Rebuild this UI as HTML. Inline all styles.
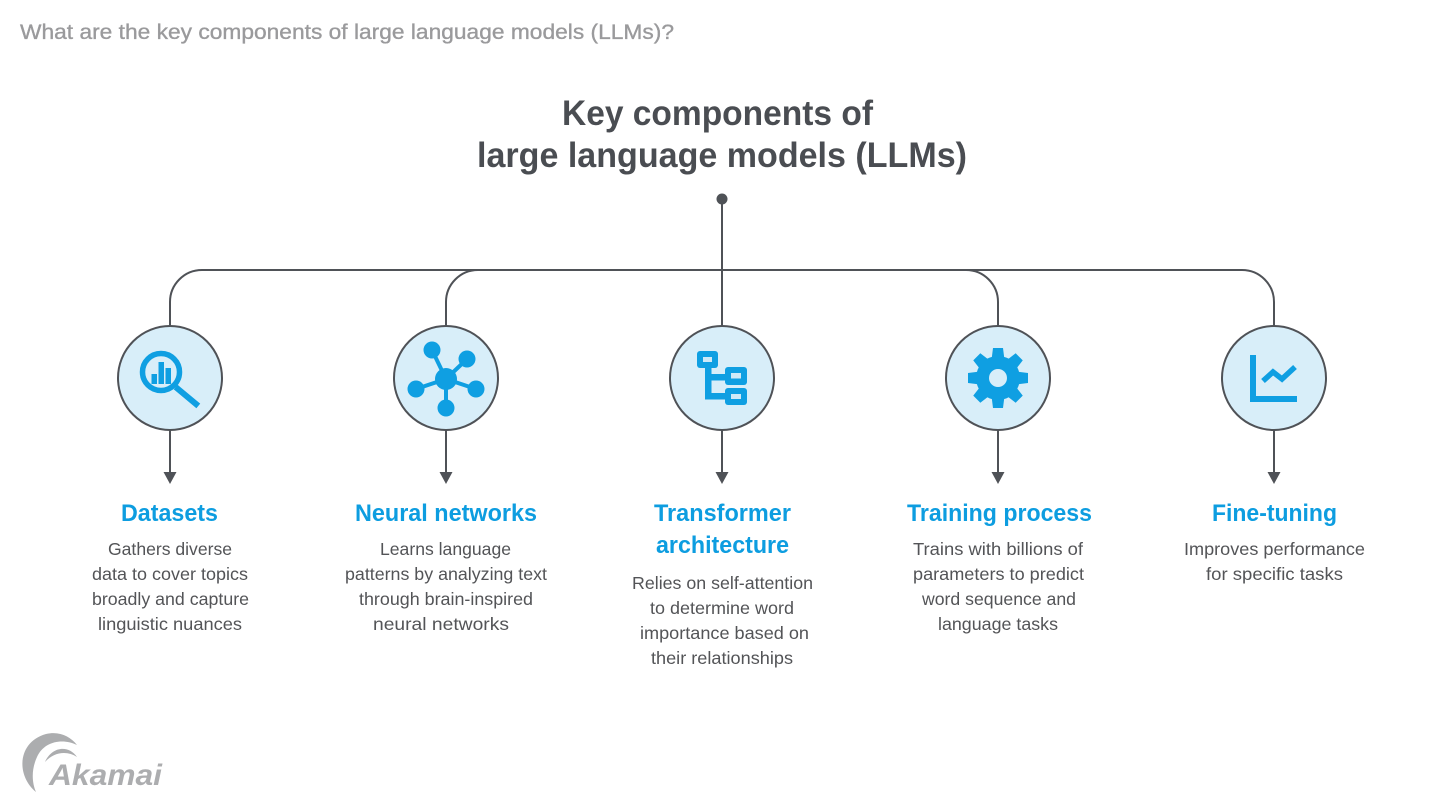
<!DOCTYPE html>
<html>
<head>
<meta charset="utf-8">
<style>
html,body{margin:0;padding:0;background:#fff;}
svg{display:block;}
text{font-family:"Liberation Sans",Arial,sans-serif;}
.t{fill:#9a9a9c;font-size:21px;stroke:#9a9a9c;stroke-width:0.35px;}
.h{fill:#4a4d52;font-size:35px;font-weight:bold;}
.l{fill:#0d9de0;font-size:24px;font-weight:bold;}
.d{fill:#535457;font-size:17.5px;}
</style>
</head>
<body>
<svg width="1440" height="810" viewBox="0 0 1440 810" xmlns="http://www.w3.org/2000/svg">
<rect width="1440" height="810" fill="#fff"/>

<!-- top question -->
<text class="t" x="20" y="39" textLength="654" lengthAdjust="spacingAndGlyphs">What are the key components of large language models (LLMs)?</text>

<!-- heading -->
<text class="h" x="562" y="125" textLength="311" lengthAdjust="spacingAndGlyphs">Key components of</text>
<text class="h" x="477" y="167" textLength="490" lengthAdjust="spacingAndGlyphs">large language models (LLMs)</text>

<!-- connectors -->
<g fill="none" stroke="#4f5257" stroke-width="2">
  <path d="M170 326 V302 A32 32 0 0 1 202 270 H1242 A32 32 0 0 1 1274 302 V326"/>
  <path d="M446 326 V302 A32 32 0 0 1 478 270"/>
  <path d="M998 326 V302 A32 32 0 0 0 966 270"/>
  <path d="M722 199 V326"/>
  <path d="M170 430 V474 M446 430 V474 M722 430 V474 M998 430 V474 M1274 430 V474"/>
</g>
<circle cx="722" cy="199" r="5.5" fill="#4f5257"/>
<g fill="#4f5257">
  <polygon points="163.5,472 176.5,472 170,484"/>
  <polygon points="439.5,472 452.5,472 446,484"/>
  <polygon points="715.5,472 728.5,472 722,484"/>
  <polygon points="991.5,472 1004.5,472 998,484"/>
  <polygon points="1267.5,472 1280.5,472 1274,484"/>
</g>

<!-- circles -->
<g fill="#d8eef9" stroke="#4f5257" stroke-width="2">
  <circle cx="170" cy="378" r="52"/>
  <circle cx="446" cy="378" r="52"/>
  <circle cx="722" cy="378" r="52"/>
  <circle cx="998" cy="378" r="52"/>
  <circle cx="1274" cy="378" r="52"/>
</g>

<!-- icon: datasets (magnifier with bars) -->
<g fill="#0f9fe2" stroke="none">
  <circle cx="161" cy="372" r="18.5" fill="none" stroke="#0f9fe2" stroke-width="5.5"/>
  <line x1="178" y1="389" x2="196" y2="404" stroke="#0f9fe2" stroke-width="6" stroke-linecap="square"/>
  <rect x="151.5" y="374" width="5.5" height="10"/>
  <rect x="158.5" y="362" width="5.5" height="22"/>
  <rect x="165.5" y="368" width="5.5" height="16"/>
</g>

<!-- icon: neural network -->
<g stroke="#0f9fe2" stroke-width="4" fill="#0f9fe2">
  <line x1="446" y1="379" x2="432" y2="350"/>
  <line x1="446" y1="379" x2="467" y2="359"/>
  <line x1="446" y1="379" x2="476" y2="389"/>
  <line x1="446" y1="379" x2="446" y2="408"/>
  <line x1="446" y1="379" x2="416" y2="389"/>
  <g stroke="none">
    <circle cx="446" cy="379" r="11"/>
    <circle cx="432" cy="350" r="8.5"/>
    <circle cx="467" cy="359" r="8.5"/>
    <circle cx="476" cy="389" r="8.5"/>
    <circle cx="446" cy="408" r="8.5"/>
    <circle cx="416" cy="389" r="8.5"/>
  </g>
</g>

<!-- icon: transformer (tree boxes) -->
<g fill="#0f9fe2">
  <rect x="705" y="366" width="6.5" height="31"/>
  <rect x="705" y="374" width="22" height="6.5"/>
  <rect x="705" y="393" width="22" height="6.5"/>
  <rect x="697" y="351" width="21" height="17" rx="3"/>
  <rect x="725" y="367" width="22" height="18" rx="3"/>
  <rect x="725" y="388" width="22" height="17" rx="3"/>
  <g fill="#cfe9f7">
    <rect x="703" y="357" width="9" height="5"/>
    <rect x="731" y="373" width="10" height="5.5"/>
    <rect x="731" y="394" width="10" height="5"/>
  </g>
</g>

<!-- icon: gear -->
<g fill="#0f9fe2" transform="translate(998 378)">
  <circle r="22"/>
  <path id="tooth" d="M-6.5 -18 L-5 -30 L5 -30 L6.5 -18 Z"/>
  <path d="M-6.5 -18 L-5 -30 L5 -30 L6.5 -18 Z" transform="rotate(45)"/>
  <path d="M-6.5 -18 L-5 -30 L5 -30 L6.5 -18 Z" transform="rotate(90)"/>
  <path d="M-6.5 -18 L-5 -30 L5 -30 L6.5 -18 Z" transform="rotate(135)"/>
  <path d="M-6.5 -18 L-5 -30 L5 -30 L6.5 -18 Z" transform="rotate(180)"/>
  <path d="M-6.5 -18 L-5 -30 L5 -30 L6.5 -18 Z" transform="rotate(225)"/>
  <path d="M-6.5 -18 L-5 -30 L5 -30 L6.5 -18 Z" transform="rotate(270)"/>
  <path d="M-6.5 -18 L-5 -30 L5 -30 L6.5 -18 Z" transform="rotate(315)"/>
  <circle r="9" fill="#d8eef9"/>
</g>

<!-- icon: chart -->
<g fill="none" stroke="#0f9fe2" stroke-width="6">
  <path d="M1253 355 V399 H1297" stroke-linejoin="miter"/>
  <path d="M1263 381 L1273 372 L1282 379 L1295 367" stroke-width="5.5"/>
</g>

<!-- labels -->
<text class="l" x="121" y="521" textLength="97" lengthAdjust="spacingAndGlyphs">Datasets</text>
<text class="l" x="355" y="521" textLength="182" lengthAdjust="spacingAndGlyphs">Neural networks</text>
<text class="l" x="654" y="521" textLength="137" lengthAdjust="spacingAndGlyphs">Transformer</text>
<text class="l" x="656" y="553" textLength="133" lengthAdjust="spacingAndGlyphs">architecture</text>
<text class="l" x="907" y="521" textLength="185" lengthAdjust="spacingAndGlyphs">Training process</text>
<text class="l" x="1212" y="521" textLength="125" lengthAdjust="spacingAndGlyphs">Fine-tuning</text>

<!-- descriptions -->
<text class="d" x="108" y="555" textLength="124" lengthAdjust="spacingAndGlyphs">Gathers diverse</text>
<text class="d" x="92" y="580" textLength="156" lengthAdjust="spacingAndGlyphs">data to cover topics</text>
<text class="d" x="92" y="605" textLength="157" lengthAdjust="spacingAndGlyphs">broadly and capture</text>
<text class="d" x="98" y="630" textLength="144" lengthAdjust="spacingAndGlyphs">linguistic nuances</text>

<text class="d" x="380" y="555" textLength="131" lengthAdjust="spacingAndGlyphs">Learns language</text>
<text class="d" x="345" y="580" textLength="202" lengthAdjust="spacingAndGlyphs">patterns by analyzing text</text>
<text class="d" x="359" y="605" textLength="174" lengthAdjust="spacingAndGlyphs">through brain-inspired</text>
<text class="d" x="373" y="630" textLength="136" lengthAdjust="spacingAndGlyphs">neural networks</text>

<text class="d" x="632" y="589" textLength="181" lengthAdjust="spacingAndGlyphs">Relies on self-attention</text>
<text class="d" x="650" y="614" textLength="144" lengthAdjust="spacingAndGlyphs">to determine word</text>
<text class="d" x="640" y="639" textLength="169" lengthAdjust="spacingAndGlyphs">importance based on</text>
<text class="d" x="651" y="664" textLength="142" lengthAdjust="spacingAndGlyphs">their relationships</text>

<text class="d" x="913" y="555" textLength="170" lengthAdjust="spacingAndGlyphs">Trains with billions of</text>
<text class="d" x="913" y="580" textLength="171" lengthAdjust="spacingAndGlyphs">parameters to predict</text>
<text class="d" x="922" y="605" textLength="154" lengthAdjust="spacingAndGlyphs">word sequence and</text>
<text class="d" x="938" y="630" textLength="120" lengthAdjust="spacingAndGlyphs">language tasks</text>

<text class="d" x="1184" y="555" textLength="181" lengthAdjust="spacingAndGlyphs">Improves performance</text>
<text class="d" x="1206" y="580" textLength="137" lengthAdjust="spacingAndGlyphs">for specific tasks</text>

<!-- Akamai logo -->
<g fill="#acadaf">
  <path d="M36 792 C16 776 17 742 46 734 C59 731 70 736 77 745 C63 738 44 741 37 757 C31 770 32 783 36 792 Z"/>
  <path d="M45 762 C52 746 69 745 77 757 C68 751 55 751 45 762 Z"/>
  <text x="49" y="785" font-size="30" font-weight="bold" font-style="italic" textLength="113" lengthAdjust="spacingAndGlyphs" style="font-family:'Liberation Sans',Arial,sans-serif;">Akamai</text>
</g>
</svg>
</body>
</html>
